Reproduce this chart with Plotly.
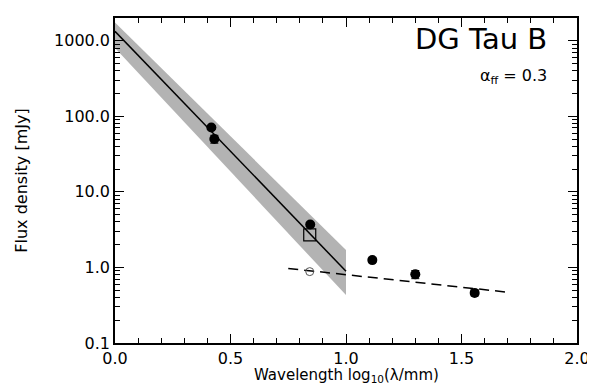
import plotly.graph_objects as go

# Data
det_x = [0.417, 0.43, 0.845, 1.114, 1.30, 1.557]
det_y = [71.0, 50.0, 3.7, 1.25, 0.81, 0.46]
det_err = [4.0, 6.0, 0.25, 0.08, 0.10, 0.04]

square_x = [0.843]
square_y = [2.7]
open_circ_x = [0.843]
open_circ_y = [0.88]

fit_x = [0.0, 1.0]
fit_y = [1330.0, 0.89]

band_x = [0.0, 1.0, 1.0, 0.0]
band_y = [1740.0, 1.7, 0.43, 800.0]

ff_x = [0.75, 1.7]
ff_y = [0.97, 0.47]

FONT = "DejaVu Sans, Verdana, sans-serif"

fig = go.Figure()
fig.add_trace(go.Scatter(x=band_x, y=band_y, fill="toself", mode="lines",
                         fillcolor="#b3b3b3", line=dict(width=0, color="#b3b3b3"),
                         showlegend=False, hoverinfo="skip"))
fig.add_trace(go.Scatter(x=fit_x, y=fit_y, mode="lines",
                         line=dict(color="black", width=1.5), showlegend=False))
fig.add_trace(go.Scatter(x=ff_x, y=ff_y, mode="lines",
                         line=dict(color="black", width=1.5, dash="10px,6px"), showlegend=False))
fig.add_trace(go.Scatter(x=det_x, y=det_y, mode="markers",
                         marker=dict(color="black", size=10, symbol="circle"),
                         error_y=dict(type="data", array=det_err, color="black", thickness=1, width=4),
                         showlegend=False))
fig.add_trace(go.Scatter(x=square_x, y=square_y, mode="markers",
                         marker=dict(color="black", size=12, symbol="square-open",
                                     line=dict(color="black", width=1.2)),
                         showlegend=False))
fig.add_trace(go.Scatter(x=open_circ_x, y=open_circ_y, mode="markers",
                         marker=dict(size=8, symbol="circle-open",
                                     color="#555", line=dict(color="#555", width=1)),
                         showlegend=False))

axis_common = dict(showgrid=False, zeroline=False, showline=True, linecolor="black",
                   linewidth=1.5, mirror="ticks", ticks="inside", tickcolor="black",
                   tickwidth=1.2, ticklen=9,
                   tickfont=dict(family=FONT, size=16, color="black"))

fig.update_xaxes(range=[0, 2], tickmode="linear", tick0=0, dtick=0.5, tickformat=".1f",
                 minor=dict(ticks="inside", dtick=0.1, ticklen=5, tickwidth=1.2,
                            tickcolor="black", showgrid=False),
                 **axis_common)
fig.update_yaxes(type="log", range=[-1, 3.3], tickmode="linear", tick0=0, dtick=1,
                 tickformat=".1f",
                 minor=dict(ticks="inside", dtick="D1", ticklen=5, tickwidth=1.2,
                            tickcolor="black", showgrid=False),
                 title=dict(text="Flux density [mJy]",
                            font=dict(family=FONT, size=16, color="black"), standoff=22),
                 **axis_common)

fig.add_annotation(x=0.5, y=-0.136, xref="paper", yref="paper", xanchor="center", yanchor="bottom",
                   text="Wavelength log<sub>10</sub>(λ/mm)", showarrow=False,
                   font=dict(family=FONT, size=15, color="black"))
fig.add_annotation(x=0.94, y=0.995, xref="paper", yref="paper", xanchor="right", yanchor="top",
                   text="DG Tau B", showarrow=False,
                   font=dict(family=FONT, size=29, color="black"))
fig.add_annotation(x=0.94, y=0.86, xref="paper", yref="paper", xanchor="right", yanchor="top",
                   text="α<sub>ff</sub> = 0.3", showarrow=False,
                   font=dict(family=FONT, size=16, color="black"))

fig.update_layout(width=595, height=387, plot_bgcolor="white", paper_bgcolor="white",
                  margin=dict(l=107, r=26, t=8, b=52))

fig.write_html("out.html")
